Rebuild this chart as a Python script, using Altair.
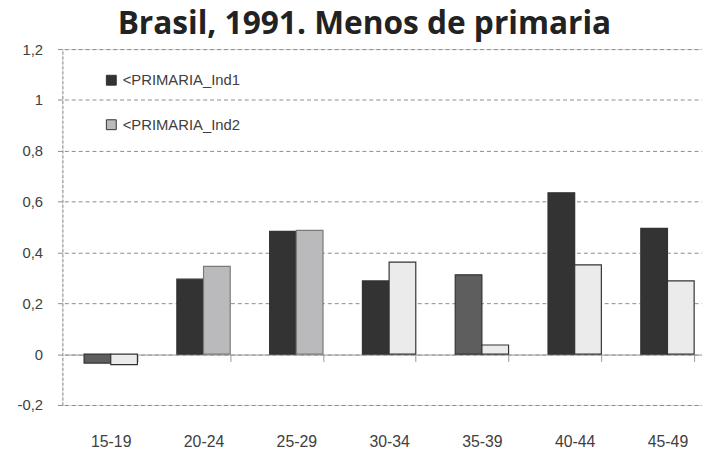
import altair as alt
import pandas as pd

ages = ["15-19", "20-24", "25-29", "30-34", "35-39", "40-44", "45-49"]
series = ["<PRIMARIA_Ind1", "<PRIMARIA_Ind2"]
ind1 = [-0.035, 0.295, 0.483, 0.288, 0.312, 0.635, 0.495]
ind2 = [-0.041, 0.345, 0.487, 0.362, 0.036, 0.351, 0.288]
# bar look: solid colour of its series, or a textured look (approximated)
ind1_look = ["hatch", "<PRIMARIA_Ind1", "<PRIMARIA_Ind1", "<PRIMARIA_Ind1", "hatch", "<PRIMARIA_Ind1", "<PRIMARIA_Ind1"]
ind2_look = ["dots", "<PRIMARIA_Ind2", "<PRIMARIA_Ind2", "dots", "dots", "dots", "dots"]
y_ticks = [-0.2, 0, 0.2, 0.4, 0.6, 0.8, 1.0, 1.2]

looks = ["<PRIMARIA_Ind1", "<PRIMARIA_Ind2", "hatch", "dots"]
look_colors = ["#333333", "#bababd", "#5e5e5e", "#ebebeb"]
edge_of = {"<PRIMARIA_Ind1": "#333333", "<PRIMARIA_Ind2": "#7a7a7a", "hatch": "#333333", "dots": "#333333"}

rows = []
for a, v1, v2, l1, l2 in zip(ages, ind1, ind2, ind1_look, ind2_look):
    rows.append({"age": a, "series": series[0], "value": v1, "look": l1, "edge": edge_of[l1]})
    rows.append({"age": a, "series": series[1], "value": v2, "look": l2, "edge": edge_of[l2]})
df = pd.DataFrame(rows)

FONT = "Liberation Sans"
TXT = "#404040"
GRID = "#8c8c8c"

chart = alt.Chart(df).mark_bar(strokeWidth=1.2).encode(
    x=alt.X(
        "age:N", sort=ages,
        scale=alt.Scale(range=[2, 659], paddingInner=0.425, paddingOuter=0.2125),
        axis=alt.Axis(
            title=None, orient="bottom", offset=-51, labelAngle=0,
            domain=True, domainColor="#999999", domainWidth=1,
            ticks=True, tickBand="extent", tickSize=7, tickColor="#999999",
            labelPadding=73, labelFontSize=16, labelColor=TXT, labelFont=FONT,
            grid=False,
        ),
    ),
    xOffset=alt.XOffset("series:N", sort=series, scale=alt.Scale(paddingInner=0, paddingOuter=0)),
    y=alt.Y(
        "value:Q",
        scale=alt.Scale(domain=[-0.2, 1.2], nice=False, zero=False),
        axis=alt.Axis(
            title=None, values=y_ticks,
            labelExpr="replace(replace(format(datum.value, '.1~f'), '.', ','), '\u2212', '-')",
            grid=True, gridDash=[4, 3], gridColor=GRID, gridWidth=1,
            domain=True, domainDash=[3, 2], domainColor=GRID,
            tickSize=5, tickColor=GRID, labelPadding=15,
            labelFontSize=15, labelColor=TXT, labelFont=FONT,
        ),
    ),
    color=alt.Color(
        "look:N",
        scale=alt.Scale(domain=looks, range=look_colors),
        legend=alt.Legend(
            title=None, values=series, orient="none", legendX=42, legendY=24,
            direction="vertical", symbolType="square", symbolSize=100,
            symbolStrokeColor="#333333", symbolStrokeWidth=1,
            labelFontSize=15, labelFont=FONT, labelColor=TXT,
            rowPadding=29, labelOffset=4, padding=0,
        ),
    ),
    stroke=alt.Stroke("edge:N", scale=None),
).properties(
    width=647,
    height=360,
    title=alt.TitleParams(
        "Brasil, 1991. Menos de primaria",
        font="Open Sans", fontSize=32, fontWeight="bold", color="#222222",
        anchor="middle", frame="group", dx=-18, dy=43, offset=12, baseline="bottom",
    ),
    autosize=alt.AutoSizeParams(type="none"),
    padding={"left": 55, "top": 39, "right": 0, "bottom": 46},
).configure_view(stroke=None).configure(background="white")

chart.save("out.html", embed_options={"renderer": "svg", "actions": False})
